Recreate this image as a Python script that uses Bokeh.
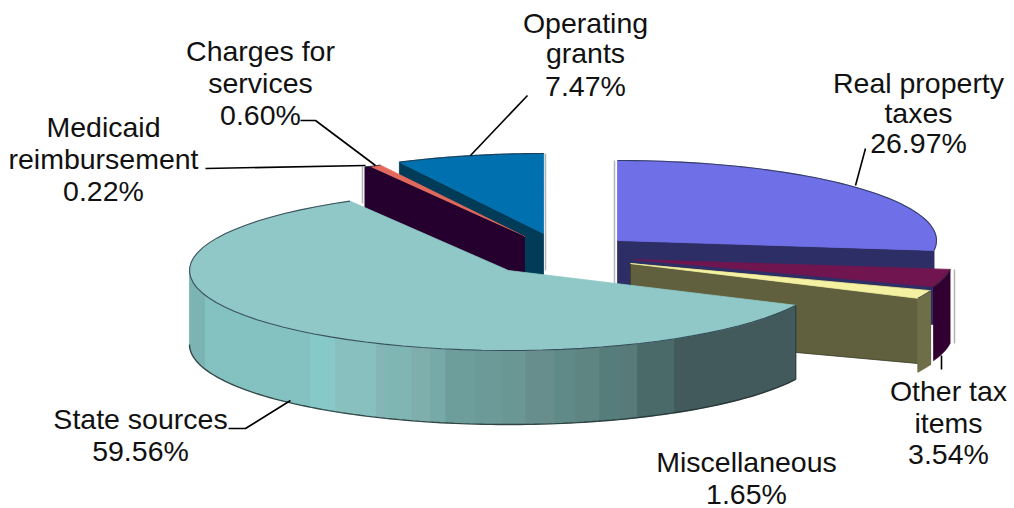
import numpy as np
from bokeh.plotting import figure
from bokeh.models import ColumnDataSource
from bokeh.core.properties import value
from bokeh.embed import file_html
from bokeh.resources import INLINE

# ---- data ----
categories = ["Real property taxes", "Other tax items", "Miscellaneous", "State sources",
              "Medicaid reimbursement", "Charges for services", "Operating grants"]
shares = [26.97, 3.54, 1.65, 59.56, 0.22, 0.60, 7.47]
label_lines = [["Real property", "taxes"], ["Other tax", "items"], ["Miscellaneous"], ["State sources"],
               ["Medicaid", "reimbursement"], ["Charges for", "services"], ["Operating", "grants"]]

# ---- styling / layout ----
top_colors = ["#6f6fe8", "#701550", "#f4f1a2", "#8fc8c7", "#25002f", "#e2695c", "#0070ae"]
cut_colors = ["#2e2e66", "#2e0028", "#60603f", "#8fc8c7", "#25002f", "#25002f", "#003c58"]
side_colors = ["#2e2e66", "#320030", "#6e6e48", "#8fc8c7", "#25002f", "#25002f", "#003c58"]
apex = [(617, 240), (633, 259), (630, 263), (508, 270), (523, 236), (524, 236), (543, 233)]
RX, RY, DEPTH = 319, 80, 74
band_edges = [188, 205, 310, 335, 376, 385, 411, 430, 445, 474, 503, 525, 554, 575, 599, 619, 637, 674, 800]
band_colors = ["#7cb3b3", "#84c2c2", "#87c8c8", "#88bfbf", "#84b4b4", "#7fb5b3", "#80aeac", "#76aaa8", "#6e9e9c",
               "#6b9a98", "#6a9694", "#678e8c", "#608a88", "#5f8583", "#557d7b", "#587a78", "#4a6a6a", "#425a5b"]

p = figure(width=1014, height=508, x_range=(0, 1014), y_range=(508, 0), x_axis_type=None, y_axis_type=None,
           output_backend="svg", toolbar_location=None, min_border=0, outline_line_color=None)
p.grid.visible = False

deg = np.cumsum([0] + [s * 3.6 for s in shares]) - 90.0
spans = list(zip(deg[:-1], deg[1:]))


def arc(c, a0, a1, n=60):
    t = np.radians(np.linspace(a0, a1, n))
    return c[0] + RX * np.cos(t), c[1] + RY * np.sin(t)


def poly(xs, ys, color, edge=None):
    p.patch(list(xs), list(ys), fill_color=color, line_color=edge or color, line_width=0.8)


def cut_start(i, edge=None):
    c = apex[i]
    ax, ay = arc(c, *spans[i])
    poly([c[0], ax[0], ax[0], c[0]], [c[1], ay[0], ay[0] + DEPTH, c[1] + DEPTH], cut_colors[i], edge)


def outer(i):
    ax, ay = arc(apex[i], *spans[i])
    poly(np.r_[ax, ax[::-1]], np.r_[ay, ay[::-1] + DEPTH], side_colors[i])


def top(i):
    ax, ay = arc(apex[i], *spans[i])
    c = apex[i]
    poly(np.r_[c[0], ax], np.r_[c[1], ay], top_colors[i])
    p.line(ax, ay, line_color="#1c2a3a", line_width=1.1, line_alpha=0.75)


# faint shadow lines beside the cut faces
for i, (a_x, y0, y1) in {0: (-3, -80, 45), 6: (2, -80, 37), 4: (-161, -70, -33), 1: (321, 10, 84)}.items():
    p.line([apex[i][0] + a_x] * 2, [apex[i][1] + y0, apex[i][1] + y1], line_color="#b4b4b4", line_width=1.5)

# back to front
c = apex[0]
ax, ay = arc(c, *spans[0])
poly([c[0], ax[-1], ax[-1], c[0]], [c[1], ay[-1], ay[-1] + DEPTH, c[1] + DEPTH], cut_colors[0])
top(0)

# operating grants, then the two thin slices in front of it
cut_start(6)
top(6)
cut_start(5)
top(5)
cut_start(4)
top(4)

# other tax items
outer(1)
top(1)
# miscellaneous
cut_start(2, "#3c3c28")
outer(2)
top(2)

# state sources: banded outer wall, then the top
c = apex[3]
lo, hi = spans[3][0], 180.0
for x0, x1, col in zip(band_edges[:-1], band_edges[1:], band_colors):
    t0 = np.degrees(np.arccos(np.clip((x1 - c[0]) / RX, -1, 1)))
    t1 = np.degrees(np.arccos(np.clip((x0 - c[0]) / RX, -1, 1)))
    t0, t1 = max(t0, lo), min(t1, hi)
    if t1 <= t0:
        continue
    bx, by = arc(c, t0, t1, 24)
    poly(np.r_[bx, bx[::-1]], np.r_[by, by[::-1] + DEPTH], col)
bx, by = arc(c, lo, hi, 120)
p.line(bx, by + DEPTH, line_color="#1c2a2a", line_width=1.4, line_alpha=0.8)
p.line([bx[0], bx[0]], [by[0], by[0] + DEPTH], line_color="#2a3a3a", line_width=1)
top(3)

# leader lines
leaders_x = [[865, 855], [941, 941], [228, 245, 290], [205, 365], [300, 315, 375], [527, 470]]
leaders_y = [[148, 185], [355, 369], [428, 428, 400], [168, 165], [120, 120, 165], [95, 155]]
p.multi_line(leaders_x, leaders_y, line_color="black", line_width=1.6)

# labels, each last line being the slice's share
label_pos = [(918, [82, 112, 142]), (948, [390, 422, 453]), (746, [461, 493]), (140, [418, 450]),
             (103, [126, 158, 190]), (260, [50, 82, 114]), (585, [22, 52, 85])]
tx, ty, tt = [], [], []
for lines, share, (x, ys) in zip(label_lines, shares, label_pos):
    for s, y in zip(lines + [f"{share:.2f}%"], ys):
        tx.append(x); ty.append(y); tt.append(s)
src = ColumnDataSource(dict(x=tx, y=ty, t=tt))
p.text("x", "y", text="t", source=src, text_align="center", text_baseline="middle",
       text_font=value("Liberation Sans"), text_font_size="28.5px", text_color="#111111")

open("out.html", "w").write(file_html(p, INLINE))
